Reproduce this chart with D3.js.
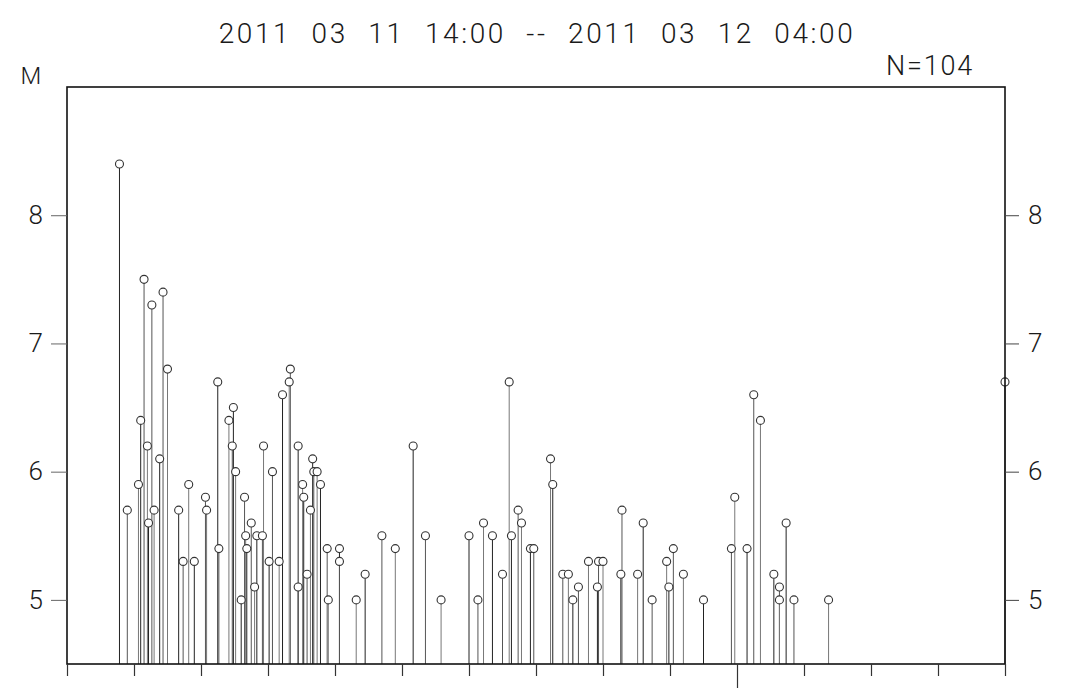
<!DOCTYPE html>
<html>
<head>
<meta charset="utf-8">
<script src="https://cdn.jsdelivr.net/npm/d3@7"></script>
<style>
  body { margin: 0; background: #fff; }
  svg { display: block; }
</style>
</head>
<body>
<svg width="1066" height="688"></svg>
<script>
// event times (JST) and magnitudes
let times = [
    "2011-03-11 14:47", "2011-03-11 14:54", "2011-03-11 15:04", "2011-03-11 15:06", "2011-03-11 15:09",
    "2011-03-11 15:12", "2011-03-11 15:13", "2011-03-11 15:16", "2011-03-11 15:18", "2011-03-11 15:23",
    "2011-03-11 15:26", "2011-03-11 15:30", "2011-03-11 15:40", "2011-03-11 15:44", "2011-03-11 15:49",
    "2011-03-11 15:54", "2011-03-11 16:04", "2011-03-11 16:05", "2011-03-11 16:15", "2011-03-11 16:16",
    "2011-03-11 16:25", "2011-03-11 16:29", "2011-03-11 16:28", "2011-03-11 16:31", "2011-03-11 16:36",
    "2011-03-11 16:39", "2011-03-11 16:40", "2011-03-11 16:41", "2011-03-11 16:45", "2011-03-11 16:48",
    "2011-03-11 16:50", "2011-03-11 16:55", "2011-03-11 16:56", "2011-03-11 17:01", "2011-03-11 17:04",
    "2011-03-11 17:10", "2011-03-11 17:13", "2011-03-11 17:20", "2011-03-11 17:19", "2011-03-11 17:27",
    "2011-03-11 17:27", "2011-03-11 17:31", "2011-03-11 17:32", "2011-03-11 17:35", "2011-03-11 17:38",
    "2011-03-11 17:40", "2011-03-11 17:41", "2011-03-11 17:44", "2011-03-11 17:47", "2011-03-11 17:53",
    "2011-03-11 17:54", "2011-03-11 18:04", "2011-03-11 18:04", "2011-03-11 18:19", "2011-03-11 18:27",
    "2011-03-11 18:42", "2011-03-11 18:54", "2011-03-11 19:10", "2011-03-11 19:21", "2011-03-11 19:35",
    "2011-03-11 20:00", "2011-03-11 20:08", "2011-03-11 20:13", "2011-03-11 20:21", "2011-03-11 20:30",
    "2011-03-11 20:36", "2011-03-11 20:38", "2011-03-11 20:44", "2011-03-11 20:47", "2011-03-11 20:55",
    "2011-03-11 20:58", "2011-03-11 21:13", "2011-03-11 21:15", "2011-03-11 21:24", "2011-03-11 21:29",
    "2011-03-11 21:33", "2011-03-11 21:38", "2011-03-11 21:47", "2011-03-11 21:55", "2011-03-11 21:56",
    "2011-03-11 22:00", "2011-03-11 22:16", "2011-03-11 22:17", "2011-03-11 22:31", "2011-03-11 22:36",
    "2011-03-11 22:44", "2011-03-11 22:57", "2011-03-11 22:59", "2011-03-11 23:03", "2011-03-11 23:12",
    "2011-03-11 23:30", "2011-03-11 23:55", "2011-03-11 23:58", "2011-03-12 00:09", "2011-03-12 00:15",
    "2011-03-12 00:21", "2011-03-12 00:33", "2011-03-12 00:38", "2011-03-12 00:38", "2011-03-12 00:44",
    "2011-03-12 00:51", "2011-03-12 01:22", "2011-03-12 04:00"
];
let mags = [
    8.4, 5.7, 5.9, 6.4, 7.5,
    6.2, 5.6, 7.3, 5.7, 6.1,
    7.4, 6.8, 5.7, 5.3, 5.9,
    5.3, 5.8, 5.7, 6.7, 5.4,
    6.4, 6.5, 6.2, 6.0, 5.0,
    5.8, 5.5, 5.4, 5.6, 5.1,
    5.5, 5.5, 6.2, 5.3, 6.0,
    5.3, 6.6, 6.8, 6.7, 6.2,
    5.1, 5.9, 5.8, 5.2, 5.7,
    6.1, 6.0, 6.0, 5.9, 5.4,
    5.0, 5.4, 5.3, 5.0, 5.2,
    5.5, 5.4, 6.2, 5.5, 5.0,
    5.5, 5.0, 5.6, 5.5, 5.2,
    6.7, 5.5, 5.7, 5.6, 5.4,
    5.4, 6.1, 5.9, 5.2, 5.2,
    5.0, 5.1, 5.3, 5.1, 5.3,
    5.3, 5.2, 5.7, 5.2, 5.6,
    5.0, 5.3, 5.1, 5.4, 5.2,
    5.0, 5.4, 5.8, 5.4, 6.6,
    6.4, 5.2, 5.1, 5.0, 5.6,
    5.0, 5.0, 6.7
];
let yTicks = [5, 6, 7, 8];
let startTime = "2011-03-11 14:00";
let endTime = "2011-03-12 04:00";
let titleText = "2011 03 11 14:00 -- 2011 03 12 04:00";
let countText = "N=104";

let margin = {top: 87, right: 61, bottom: 24, left: 67};
let width = 1066 - margin.left - margin.right;
let height = 688 - margin.top - margin.bottom;

const parse = d3.timeParse("%Y-%m-%d %H:%M");
const data = times.map((t, i) => ({t: parse(t), m: mags[i]}));

const x = d3.scaleTime()
    .domain([parse(startTime), parse(endTime)])
    .range([0, width]);
const y = d3.scaleLinear()
    .domain([4.5, 9])
    .range([height, 0]);

const svg = d3.select("svg");
const font = "Roboto, 'Liberation Sans', Arial, sans-serif";

svg.append("text")
    .attr("x", 537)
    .attr("y", 43)
    .attr("text-anchor", "middle")
    .attr("font-family", font)
    .attr("font-weight", 300)
    .attr("font-size", 28)
    .attr("letter-spacing", 2.6)
    .attr("word-spacing", 11)
    .attr("fill", "#1a1a1a")
    .text(titleText);

svg.append("text")
    .attr("x", 974)
    .attr("y", 75)
    .attr("text-anchor", "end")
    .attr("font-family", font)
    .attr("font-weight", 300)
    .attr("font-size", 27)
    .attr("letter-spacing", 1.8)
    .attr("fill", "#1a1a1a")
    .text(countText);

svg.append("text")
    .attr("x", 31)
    .attr("y", 84)
    .attr("text-anchor", "middle")
    .attr("font-family", font)
    .attr("font-weight", 300)
    .attr("font-size", 24)
    .attr("fill", "#1a1a1a")
    .text("M");

const g = svg.append("g")
    .attr("transform", `translate(${margin.left},${margin.top})`);

// stems
g.append("g")
    .attr("stroke-width", 1)
    .selectAll("line")
    .data(data)
    .join("line")
    .attr("x1", d => x(d.t))
    .attr("x2", d => x(d.t))
    .attr("y1", height)
    .attr("y2", d => y(d.m) + 4)
    .attr("stroke", (d, i) => i % 3 === 0 ? "#222" : (i % 3 === 1 ? "#555" : "#777"));

// circles
g.append("g")
    .selectAll("circle")
    .data(data)
    .join("circle")
    .attr("cx", d => x(d.t))
    .attr("cy", d => y(d.m))
    .attr("r", 4)
    .attr("fill", "#fff")
    .attr("stroke", "#333")
    .attr("stroke-width", 1.1);

// frame
g.append("rect")
    .attr("width", width)
    .attr("height", height)
    .attr("fill", "none")
    .attr("stroke", "#111")
    .attr("stroke-width", 1.6);

// left axis
const left = g.append("g")
    .call(d3.axisLeft(y).tickValues(yTicks).tickSize(16).tickPadding(8).tickFormat(d3.format("d")));
left.select(".domain").remove();
left.selectAll("line").attr("stroke", "#666");
left.selectAll("text").attr("font-family", font).attr("font-weight", 300)
    .attr("font-size", 26).attr("fill", "#1a1a1a");

// right axis
const right = g.append("g")
    .attr("transform", `translate(${width},0)`)
    .call(d3.axisRight(y).tickValues(yTicks).tickSize(14).tickPadding(9).tickFormat(d3.format("d")));
right.select(".domain").remove();
right.selectAll("line").attr("stroke", "#444");
right.selectAll("text").attr("font-family", font).attr("font-weight", 300)
    .attr("font-size", 26).attr("fill", "#1a1a1a");

// bottom hour ticks, midnight longer
const bottom = g.append("g")
    .attr("transform", `translate(0,${height})`)
    .call(d3.axisBottom(x).ticks(d3.timeHour.every(1)).tickSize(12).tickFormat(""));
bottom.select(".domain").remove();
bottom.selectAll("line")
    .attr("stroke", "#333")
    .attr("stroke-width", 1.2)
    .attr("y2", d => d.getHours() === 0 ? 24 : 12);
</script>
</body>
</html>
